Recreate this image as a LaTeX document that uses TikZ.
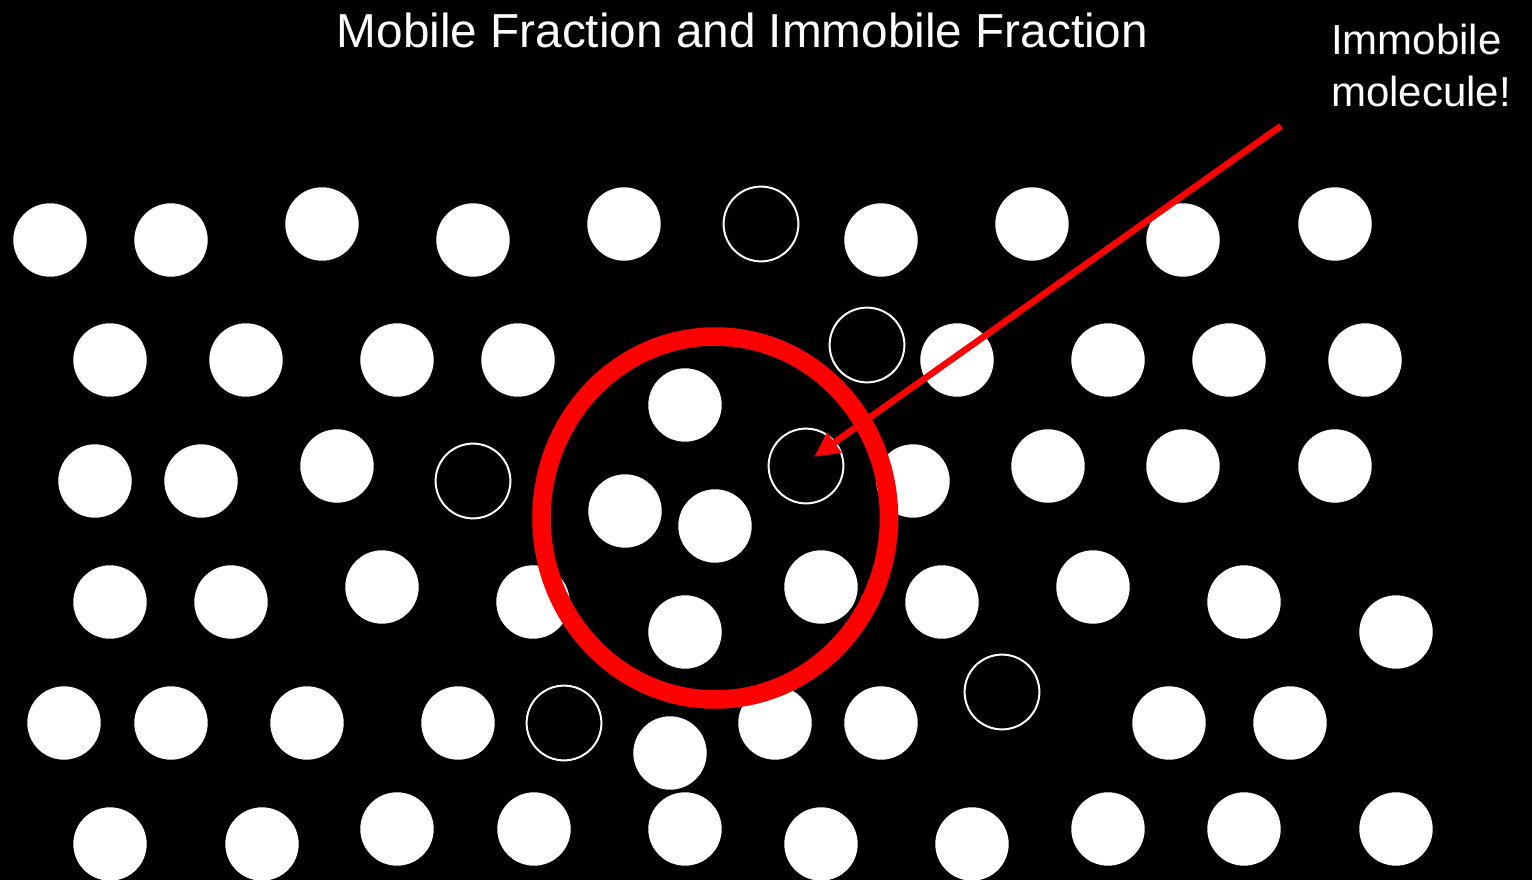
\documentclass[tikz,border=0pt]{standalone}
\usepackage{fontspec}
\setmainfont{Liberation Sans}
\usetikzlibrary{arrows.meta}
\definecolor{pptred}{RGB}{255,0,0}
\tikzset{
  mol/.style={circle, fill=white, inner sep=0pt, minimum size=73.4pt},
  immol/.style={circle, draw=white, line width=2pt, inner sep=0pt, minimum size=74.8pt},
  ring/.style={draw=pptred, line width=18.5pt},
  redarrow/.style={draw=pptred, line width=6.5pt, -{Triangle[length=25pt,width=23pt]}},
  titletext/.style={text=white, inner sep=0pt, font=\fontsize{47.7}{57}\selectfont},
  labeltext/.style={text=white, inner sep=0pt, font=\fontsize{42}{52}\selectfont}
}
\begin{document}
\begin{tikzpicture}[x=1pt, y=-1pt]
\fill[black] (0,0) rectangle (1532,880);
\useasboundingbox (0,0) rectangle (1532,880);
% mobile molecules
\foreach \x/\y [count=\i] in {
  50/240,171/240,322/224,473/240,624/224,881/240,1032/224,1183/240,1335/224,
  110/360,246/360,397/360,518/360,957/360,1108/360,1229/360,1365/360,
  95/481,201/481,337/466,685/405,625/511,715/526,913/481,1048/466,1183/466,1335/466,
  110/602,231/602,382/587,533/602,821/587,685/632,942/602,1093/587,1244/602,1396/632,
  64/723,171/723,307/723,458/723,670/753,775/723,881/723,1169/723,1290/723,
  110/844,262/844,397/829,534/829,685/829,821/844,972/844,1108/829,1244/829,1396/829}
  {\node[mol] (w\i) at (\x,\y) {};}
% immobile molecules
\foreach \x/\y [count=\i] in {761/224,867/345,473/481,806/466,564/723,1002/692}
  {\node[immol] (h\i) at (\x,\y) {};}
% red ring
\node[inner sep=0pt] (ringc) at (715.25,518) {};
\draw[ring] (ringc.center) ellipse [x radius=173.75, y radius=181.5];
% arrow
\coordinate (astart) at (1281,126);
\coordinate (atip) at (814,457);
\draw[redarrow] (astart) -- (atip);
% texts
\node[titletext, anchor=base] (title) at (742.5,48) {Mobile Fraction and Immobile Fraction};
\node[labeltext, anchor=base west] (lab1) at (1331,55) {Immobile};
\node[labeltext, anchor=base west] (lab2) at (1331,107) {molecule!};
\end{tikzpicture}
\end{document}
